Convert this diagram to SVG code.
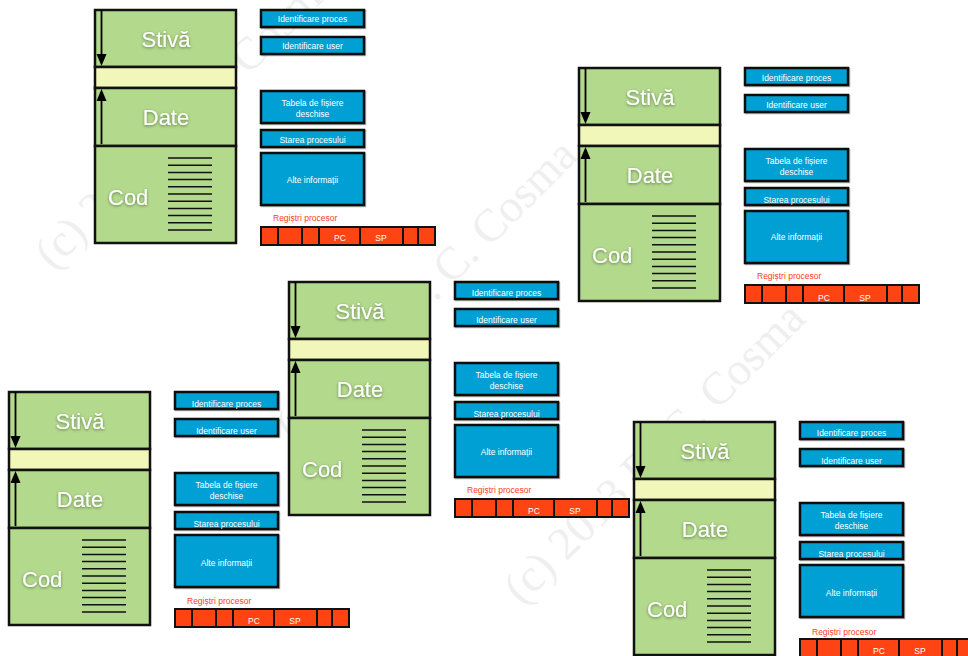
<svg xmlns="http://www.w3.org/2000/svg" width="968" height="656" viewBox="0 0 968 656">
<defs>
<style>
.mem{fill:#b2d98c;stroke:#111;stroke-width:2.5}
.gap{fill:#f1f6b9;stroke:#111;stroke-width:2.5}
.blue{fill:#00a0d4;stroke:#111;stroke-width:2.5;filter:url(#bs)}
.reg{fill:#fd4412;stroke:#111;stroke-width:2}
.div{stroke:#111;stroke-width:2}
.ar{stroke:#000;stroke-width:1.8;fill:none}
.hd{fill:#000}
.code{stroke:#111;stroke-width:1.5;fill:none}
.big{font-family:"Liberation Sans",Arial,Helvetica,sans-serif;font-size:22px;fill:#fff;filter:url(#ts)}
.sm{font-family:"Liberation Sans",Arial,Helvetica,sans-serif;font-size:8.5px;fill:#fff;text-anchor:middle}
.rl{font-family:"Liberation Sans",Arial,Helvetica,sans-serif;font-size:8.5px;fill:#ff3a1c}
.wm{font-family:"Liberation Serif","Times New Roman",serif;font-size:46px;fill:#efefef}
</style>
<filter id="ts" x="-50%" y="-60%" width="200%" height="220%">
<feDropShadow dx="0" dy="1" stdDeviation="1.5" flood-color="#000" flood-opacity="0.45"/>
</filter>
<filter id="bs" x="-5%" y="-10%" width="115%" height="130%">
<feDropShadow dx="1" dy="1" stdDeviation="0.6" flood-color="#000" flood-opacity="0.3"/>
</filter>
</defs>
<rect width="968" height="656" fill="#fff"/>
<g id="watermark">
<text class="wm" x="53" y="271" transform="rotate(-45 53 271)">(c) 2013 D. C. Cosma</text>
<text class="wm" x="294" y="443" transform="rotate(-45 294 443)">(c) 2013 D. C. Cosma</text>
<text class="wm" x="522" y="606" transform="rotate(-45 522 606)">(c) 2013 D. C. Cosma</text>
</g>

<g id="proces-1" transform="translate(0,0)">
<rect class="mem" x="95" y="10" width="141" height="57"/>
<rect class="gap" x="95" y="67" width="141" height="21"/>
<rect class="mem" x="95" y="88" width="141" height="58"/>
<rect class="mem" x="95" y="146" width="141" height="97"/>
<line class="ar" x1="101.5" y1="10" x2="101.5" y2="57"/>
<polygon class="hd" points="96.5,54 106.5,54 101.5,66"/>
<line class="ar" x1="101.5" y1="98" x2="101.5" y2="144"/>
<polygon class="hd" points="96.5,101 106.5,101 101.5,89"/>
<path class="code" d="M168 158H212M168 165.2H212M168 172.4H212M168 179.6H212M168 186.8H212M168 194H212M168 201.2H212M168 208.4H212M168 215.6H212M168 222.8H212M168 230H212"/>
<text class="big" x="166" y="47" text-anchor="middle">Stivă</text>
<text class="big" x="166" y="125" text-anchor="middle">Date</text>
<text class="big" x="108" y="205">Cod</text>
<rect class="blue" x="261" y="10" width="103" height="17"/>
<text class="sm" x="312.5" y="22">Identificare proces</text>
<rect class="blue" x="261" y="37" width="103" height="17"/>
<text class="sm" x="312.5" y="49">Identificare user</text>
<rect class="blue" x="261" y="91" width="103" height="32"/>
<text class="sm" x="312.5" y="106">Tabela de fișiere</text>
<text class="sm" x="312.5" y="116.5">deschise</text>
<rect class="blue" x="261" y="130" width="103" height="17"/>
<text class="sm" x="312.5" y="143">Starea procesului</text>
<rect class="blue" x="261" y="153" width="103" height="52"/>
<text class="sm" x="312.5" y="183">Alte informații</text>
<text class="rl" x="273" y="221">Regiștri procesor</text>
<rect class="reg" x="261" y="227" width="174" height="18"/>
<path class="div" d="M278 227V245M302 227V245M319 227V245M360 227V245M403 227V245M418 227V245"/>
<text class="sm" x="340" y="241">PC</text>
<text class="sm" x="381" y="241">SP</text>
</g>

<g id="proces-2" transform="translate(484,58)">
<rect class="mem" x="95" y="10" width="141" height="57"/>
<rect class="gap" x="95" y="67" width="141" height="21"/>
<rect class="mem" x="95" y="88" width="141" height="58"/>
<rect class="mem" x="95" y="146" width="141" height="97"/>
<line class="ar" x1="101.5" y1="10" x2="101.5" y2="57"/>
<polygon class="hd" points="96.5,54 106.5,54 101.5,66"/>
<line class="ar" x1="101.5" y1="98" x2="101.5" y2="144"/>
<polygon class="hd" points="96.5,101 106.5,101 101.5,89"/>
<path class="code" d="M168 158H212M168 165.2H212M168 172.4H212M168 179.6H212M168 186.8H212M168 194H212M168 201.2H212M168 208.4H212M168 215.6H212M168 222.8H212M168 230H212"/>
<text class="big" x="166" y="47" text-anchor="middle">Stivă</text>
<text class="big" x="166" y="125" text-anchor="middle">Date</text>
<text class="big" x="108" y="205">Cod</text>
<rect class="blue" x="261" y="10" width="103" height="17"/>
<text class="sm" x="312.5" y="23">Identificare proces</text>
<rect class="blue" x="261" y="37" width="103" height="17"/>
<text class="sm" x="312.5" y="50">Identificare user</text>
<rect class="blue" x="261" y="91" width="103" height="32"/>
<text class="sm" x="312.5" y="106">Tabela de fișiere</text>
<text class="sm" x="312.5" y="117">deschise</text>
<rect class="blue" x="261" y="130" width="103" height="17"/>
<text class="sm" x="312.5" y="144.5">Starea procesului</text>
<rect class="blue" x="261" y="153" width="103" height="52"/>
<text class="sm" x="312.5" y="182">Alte informații</text>
<text class="rl" x="273" y="221">Regiștri procesor</text>
<rect class="reg" x="261" y="227" width="174" height="18"/>
<path class="div" d="M278 227V245M302 227V245M319 227V245M360 227V245M403 227V245M418 227V245"/>
<text class="sm" x="340" y="243">PC</text>
<text class="sm" x="381" y="243">SP</text>
</g>

<g id="proces-3" transform="translate(194,272)">
<rect class="mem" x="95" y="10" width="141" height="57"/>
<rect class="gap" x="95" y="67" width="141" height="21"/>
<rect class="mem" x="95" y="88" width="141" height="58"/>
<rect class="mem" x="95" y="146" width="141" height="97"/>
<line class="ar" x1="101.5" y1="10" x2="101.5" y2="57"/>
<polygon class="hd" points="96.5,54 106.5,54 101.5,66"/>
<line class="ar" x1="101.5" y1="98" x2="101.5" y2="144"/>
<polygon class="hd" points="96.5,101 106.5,101 101.5,89"/>
<path class="code" d="M168 158H212M168 165.2H212M168 172.4H212M168 179.6H212M168 186.8H212M168 194H212M168 201.2H212M168 208.4H212M168 215.6H212M168 222.8H212M168 230H212"/>
<text class="big" x="166" y="47" text-anchor="middle">Stivă</text>
<text class="big" x="166" y="125" text-anchor="middle">Date</text>
<text class="big" x="108" y="205">Cod</text>
<rect class="blue" x="261" y="10" width="103" height="17"/>
<text class="sm" x="312.5" y="24">Identificare proces</text>
<rect class="blue" x="261" y="37" width="103" height="17"/>
<text class="sm" x="312.5" y="51">Identificare user</text>
<rect class="blue" x="261" y="91" width="103" height="32"/>
<text class="sm" x="312.5" y="106">Tabela de fișiere</text>
<text class="sm" x="312.5" y="117">deschise</text>
<rect class="blue" x="261" y="130" width="103" height="17"/>
<text class="sm" x="312.5" y="145">Starea procesului</text>
<rect class="blue" x="261" y="153" width="103" height="52"/>
<text class="sm" x="312.5" y="183">Alte informații</text>
<text class="rl" x="273" y="221">Regiștri procesor</text>
<rect class="reg" x="261" y="227" width="174" height="18"/>
<path class="div" d="M278 227V245M302 227V245M319 227V245M360 227V245M403 227V245M418 227V245"/>
<text class="sm" x="340" y="242">PC</text>
<text class="sm" x="381" y="242">SP</text>
</g>

<g id="proces-4" transform="translate(-86,382)">
<rect class="mem" x="95" y="10" width="141" height="57"/>
<rect class="gap" x="95" y="67" width="141" height="21"/>
<rect class="mem" x="95" y="88" width="141" height="58"/>
<rect class="mem" x="95" y="146" width="141" height="97"/>
<line class="ar" x1="101.5" y1="10" x2="101.5" y2="57"/>
<polygon class="hd" points="96.5,54 106.5,54 101.5,66"/>
<line class="ar" x1="101.5" y1="98" x2="101.5" y2="144"/>
<polygon class="hd" points="96.5,101 106.5,101 101.5,89"/>
<path class="code" d="M168 158H212M168 165.2H212M168 172.4H212M168 179.6H212M168 186.8H212M168 194H212M168 201.2H212M168 208.4H212M168 215.6H212M168 222.8H212M168 230H212"/>
<text class="big" x="166" y="47" text-anchor="middle">Stivă</text>
<text class="big" x="166" y="125" text-anchor="middle">Date</text>
<text class="big" x="108" y="205">Cod</text>
<rect class="blue" x="261" y="10" width="103" height="17"/>
<text class="sm" x="312.5" y="25">Identificare proces</text>
<rect class="blue" x="261" y="37" width="103" height="17"/>
<text class="sm" x="312.5" y="52">Identificare user</text>
<rect class="blue" x="261" y="91" width="103" height="32"/>
<text class="sm" x="312.5" y="106">Tabela de fișiere</text>
<text class="sm" x="312.5" y="116.5">deschise</text>
<rect class="blue" x="261" y="130" width="103" height="17"/>
<text class="sm" x="312.5" y="145">Starea procesului</text>
<rect class="blue" x="261" y="153" width="103" height="52"/>
<text class="sm" x="312.5" y="184">Alte informații</text>
<text class="rl" x="273" y="222">Regiștri procesor</text>
<rect class="reg" x="261" y="227" width="174" height="18"/>
<path class="div" d="M278 227V245M302 227V245M319 227V245M360 227V245M403 227V245M418 227V245"/>
<text class="sm" x="340" y="242">PC</text>
<text class="sm" x="381" y="242">SP</text>
</g>

<g id="proces-5" transform="translate(539,412)">
<rect class="mem" x="95" y="10" width="141" height="57"/>
<rect class="gap" x="95" y="67" width="141" height="21"/>
<rect class="mem" x="95" y="88" width="141" height="58"/>
<rect class="mem" x="95" y="146" width="141" height="97"/>
<line class="ar" x1="101.5" y1="10" x2="101.5" y2="57"/>
<polygon class="hd" points="96.5,54 106.5,54 101.5,66"/>
<line class="ar" x1="101.5" y1="98" x2="101.5" y2="144"/>
<polygon class="hd" points="96.5,101 106.5,101 101.5,89"/>
<path class="code" d="M168 158H212M168 165.2H212M168 172.4H212M168 179.6H212M168 186.8H212M168 194H212M168 201.2H212M168 208.4H212M168 215.6H212M168 222.8H212M168 230H212"/>
<text class="big" x="166" y="47" text-anchor="middle">Stivă</text>
<text class="big" x="166" y="125" text-anchor="middle">Date</text>
<text class="big" x="108" y="205">Cod</text>
<rect class="blue" x="261" y="10" width="103" height="17"/>
<text class="sm" x="312.5" y="24">Identificare proces</text>
<rect class="blue" x="261" y="37" width="103" height="17"/>
<text class="sm" x="312.5" y="52">Identificare user</text>
<rect class="blue" x="261" y="91" width="103" height="32"/>
<text class="sm" x="312.5" y="106">Tabela de fișiere</text>
<text class="sm" x="312.5" y="117">deschise</text>
<rect class="blue" x="261" y="130" width="103" height="17"/>
<text class="sm" x="312.5" y="145">Starea procesului</text>
<rect class="blue" x="261" y="153" width="103" height="52"/>
<text class="sm" x="312.5" y="184">Alte informații</text>
<text class="rl" x="273" y="223">Regiștri procesor</text>
<rect class="reg" x="261" y="227" width="174" height="18"/>
<path class="div" d="M278 227V245M302 227V245M319 227V245M360 227V245M403 227V245M418 227V245"/>
<text class="sm" x="340" y="242">PC</text>
<text class="sm" x="381" y="242">SP</text>
</g>
</svg>
